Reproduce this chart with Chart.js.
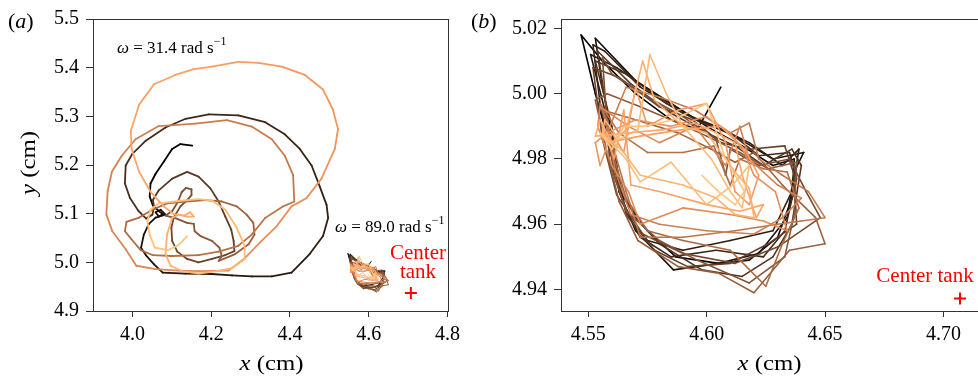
<!DOCTYPE html>
<html><head><meta charset="utf-8">
<script src="https://cdn.jsdelivr.net/npm/chart.js@4.4.0/dist/chart.umd.min.js"></script>
<style>
html,body{margin:0;padding:0;background:#fff;overflow:hidden;width:978px;height:376px;}
#wrap{position:relative;width:978px;height:376px;overflow:hidden;}
canvas{position:absolute;top:0;}
#ca{left:0;} #cb{left:466px;}
</style></head><body>
<div id="wrap"><canvas id="ca" width="466" height="376"></canvas><canvas id="cb" width="530" height="376"></canvas></div>
<script>
// ---------- DATA ----------
// Panel (a): trajectory at omega = 31.4 rad/s (time order: dark -> light)
const xA = [
  4.152,4.122,4.101,4.080,4.059,4.046,4.044,4.052,4.066,4.077,4.067,4.059,4.072,4.084,
  4.059,4.042,4.029,4.022,4.034,4.055,4.077,4.135,4.202,4.253,4.303,4.354,4.404,4.450,4.484,4.497,4.493,4.476,4.455,4.425,4.387,4.337,4.269,4.194,4.135,4.084,4.034,4.000,3.983,3.981,3.994,4.015,4.035,
  4.051,4.055,4.052,4.067,4.101,4.139,4.168,4.198,4.219,4.236,4.251,4.257,4.259,4.236,4.202,4.168,4.139,4.114,4.101,4.099,4.105,4.122,4.139,4.150,4.150,4.136,4.125,4.116,4.101,4.084,4.109,4.139,4.156,4.158,4.173,4.202,4.221,4.227,4.219,
  4.261,4.295,4.310,4.307,4.290,4.265,4.227,4.185,4.135,4.088,4.051,4.017,3.985,3.981,3.996,4.021,4.051,4.101,4.168,4.219,4.269,
  4.303,4.337,4.383,4.411,4.408,4.387,4.354,4.303,4.240,4.160,4.067,4.008,3.973,3.948,3.937,3.934,3.949,3.983,4.010,4.059,4.118,4.168,
  4.244,4.286,4.328,4.366,4.404,4.442,4.480,4.514,4.522,4.509,4.484,4.438,4.379,4.320,4.269,4.202,4.156,4.109,4.055,4.017,3.996,3.998,4.017,4.046,4.080,4.105,4.131,4.147,4.156,4.139,4.118,
  4.101,4.088,4.084,4.097,4.126,4.168,4.215,4.253,4.285,4.285,4.265,4.236,4.202,4.168,4.118,4.067,4.046,4.038,4.044,4.057,4.091,4.118,4.139
];
const yA = [
  5.240,5.243,5.233,5.207,5.182,5.162,5.135,5.117,5.106,5.099,5.094,5.103,5.108,5.098,
  5.092,5.079,5.057,5.030,5.015,4.996,4.979,4.977,4.976,4.973,4.971,4.971,4.979,5.017,5.054,5.091,5.118,5.155,5.199,5.233,5.263,5.288,5.302,5.304,5.295,5.277,5.250,5.223,5.199,5.162,5.132,5.106,5.090,
  5.098,5.115,5.128,5.148,5.172,5.186,5.176,5.152,5.125,5.094,5.067,5.044,5.023,5.015,5.007,5.000,5.007,5.022,5.044,5.071,5.092,5.115,5.128,5.138,5.150,5.153,5.144,5.125,5.105,5.096,5.091,5.081,5.079,5.064,5.054,5.044,5.030,5.013,5.003,
  5.017,5.037,5.057,5.081,5.098,5.115,5.125,5.128,5.125,5.121,5.108,5.092,5.083,5.064,5.049,5.025,5.015,5.013,5.015,5.022,5.034,
  5.057,5.091,5.115,5.125,5.179,5.219,5.253,5.279,5.292,5.285,5.280,5.253,5.219,5.186,5.145,5.098,5.064,5.027,4.993,4.986,4.983,4.982,
  4.983,5.009,5.044,5.074,5.115,5.132,5.172,5.233,5.274,5.314,5.355,5.385,5.402,5.410,5.412,5.402,5.397,5.385,5.366,5.324,5.270,5.233,5.186,5.145,5.115,5.099,5.096,5.103,5.094,5.094,5.098,
  5.091,5.057,5.017,4.993,4.982,4.977,4.982,4.988,5.007,5.034,5.071,5.108,5.127,5.130,5.126,5.121,5.108,5.084,5.057,5.030,5.025,5.036,5.054
];
// Panel (b): trajectory at omega = 89.0 rad/s (also shown small in panel a)
const xB = [
  4.606,4.596,4.585,4.570,4.556,4.547,4.553,4.560,4.565,4.575,4.587,4.605,4.618,4.630,4.636,4.637,4.628,4.615,4.600,4.585,4.570,
  4.553,4.556,4.561,4.563,4.570,4.586,4.605,4.622,4.634,4.637,4.641,4.628,4.612,4.596,4.578,4.562,
  4.551,4.557,4.562,4.566,4.575,4.590,4.610,4.628,4.636,4.639,4.632,4.618,4.604,4.590,4.572,4.557,
  4.552,4.555,4.560,4.565,4.572,4.585,4.604,4.624,4.633,4.638,4.635,4.622,4.610,4.598,4.583,4.566,
  4.553,4.560,4.563,4.570,4.580,4.598,4.615,4.628,4.636,4.640,4.636,4.624,4.612,4.600,4.585,4.568,
  4.554,4.558,4.559,4.567,4.578,4.592,4.610,4.626,4.638,4.637,4.633,4.618,4.606,4.594,4.580,4.563,
  4.552,4.556,4.562,4.573,4.590,4.612,4.630,4.648,4.642,4.635,4.622,4.610,4.608,4.604,4.590,4.575,4.560,
  4.556,4.558,4.561,4.566,4.580,4.596,4.618,4.633,4.637,4.638,4.626,4.614,4.600,4.588,4.572,4.558,
  4.553,4.557,4.563,4.571,4.588,4.605,4.620,4.635,4.650,4.646,4.632,4.620,4.612,4.602,4.588,4.570,4.556,
  4.558,4.561,4.566,4.575,4.590,4.610,4.625,4.632,4.639,4.634,4.624,4.614,4.610,4.603,4.590,4.575,4.563,
  4.555,4.560,4.566,4.572,4.590,4.612,4.630,4.640,4.650,4.643,4.632,4.622,4.618,4.610,4.595,4.580,4.566,
  4.558,4.562,4.568,4.580,4.600,4.620,4.632,4.640,4.630,4.618,4.614,4.608,4.595,4.580,4.567,4.555,
  4.554,4.560,4.567,4.572,4.590,4.610,4.624,4.634,4.629,4.620,4.616,4.610,4.600,4.585,4.570,4.558,
  4.553,4.555,4.560,4.565,4.570,4.575,4.588,4.600,4.608,4.612,4.618,4.622,4.616,4.606,4.590,4.572,4.558,
  4.556,4.561,4.565,4.568,4.580,4.600,4.614,4.624,4.621,4.615,4.612,4.604,4.595,4.582,4.567,4.553,
  4.555,4.560,4.566,4.573,4.578,4.590,4.600,4.612,4.618,4.620,4.612,4.604,4.590,4.572,4.565,4.556,
  4.557,4.563,4.571,4.576,4.583,4.590,4.602,4.610,4.615,4.618,4.611,4.600,4.585,4.572,4.566,4.558,
  4.555,4.560,4.565,4.574,4.586,4.600,4.608,4.616,4.612,4.605,4.598
];
const yB = [
  5.002,4.989,4.992,5.000,5.010,5.018,5.000,4.982,4.968,4.958,4.950,4.948,4.949,4.956,4.968,4.980,4.978,4.984,4.990,4.997,5.004,
  5.017,5.002,4.984,4.970,4.958,4.946,4.948,4.951,4.962,4.976,4.982,4.980,4.987,4.992,5.000,5.008,
  5.012,4.995,4.978,4.963,4.955,4.952,4.955,4.958,4.970,4.983,4.978,4.985,4.990,4.994,5.002,5.013,
  5.015,4.997,4.980,4.966,4.956,4.950,4.952,4.950,4.958,4.974,4.982,4.981,4.988,4.991,4.997,5.006,
  5.010,4.990,4.972,4.962,4.954,4.946,4.944,4.950,4.960,4.978,4.983,4.978,4.984,4.988,4.994,5.003,
  5.013,4.994,4.979,4.962,4.952,4.947,4.948,4.954,4.960,4.975,4.984,4.983,4.985,4.992,4.996,5.005,
  5.008,4.986,4.969,4.957,4.951,4.948,4.953,4.962,4.970,4.980,4.978,4.983,4.975,4.986,4.993,4.999,5.006,
  5.011,4.990,4.975,4.964,4.955,4.949,4.942,4.950,4.963,4.979,4.977,4.982,4.987,4.991,4.996,5.000,
  4.998,4.985,4.967,4.955,4.947,4.945,4.939,4.952,4.954,4.962,4.972,4.982,4.979,4.983,4.988,4.992,4.995,
  4.992,4.980,4.968,4.958,4.955,4.952,4.941,4.954,4.965,4.976,4.977,4.980,4.972,4.984,4.982,4.982,4.988,
  4.997,4.985,4.970,4.956,4.956,4.958,4.960,4.961,4.962,4.970,4.975,4.980,4.991,4.988,4.995,4.999,5.002,
  4.988,4.975,4.963,4.960,4.958,4.957,4.962,4.968,4.972,4.980,4.990,4.978,4.990,4.985,4.990,4.996,
  4.990,4.978,4.970,4.960,4.965,4.963,4.961,4.958,4.970,4.975,4.982,4.988,4.993,4.990,4.992,4.988,
  4.985,4.978,4.988,4.982,5.002,4.990,4.995,4.997,4.985,4.970,4.966,4.975,4.983,4.990,4.989,4.987,4.985,
  4.990,4.980,4.995,4.972,4.970,4.966,4.964,4.966,4.962,4.975,4.985,4.988,4.991,4.989,4.988,4.987,
  4.992,4.985,4.989,5.010,4.998,4.990,4.988,4.976,4.971,4.962,4.963,4.968,4.972,4.975,4.982,4.988,
  4.992,4.986,4.989,5.012,5.000,4.990,4.980,4.970,4.965,4.978,4.972,4.966,4.979,4.973,4.980,4.986,
  4.988,4.983,4.990,4.990,4.992,4.997,4.980,4.970,4.966,4.970,4.975
];
// Tank centre
const centerX = [4.707];
const centerY = [4.9372];
// Axis ranges and ticks
const xRangeA = [3.9, 4.8],  yRangeA = [4.9, 5.5];
const xRangeB = [4.5385, 4.7146], yRangeB = [4.9334, 5.0229];
const xTicksA = [4.0, 4.2, 4.4, 4.6, 4.8];
const yTicksA = [4.9, 5.0, 5.1, 5.2, 5.3, 5.4, 5.5];
const xTicksB = [4.55, 4.60, 4.65, 4.70];
const yTicksB = [4.94, 4.96, 4.98, 5.00, 5.02];

// ---------- STYLE / RENDER ----------
const SERIF = '"Liberation Serif","Times New Roman",Times,serif';
function copper(t){
  const r = Math.min(1, 1.25*t)*255, g = 0.7812*t*255, b = 0.4975*t*255;
  return 'rgb(' + Math.round(r) + ',' + Math.round(g) + ',' + Math.round(b) + ')';
}
function traj(xs, ys, width){
  const n = Math.min(xs.length, ys.length);
  const data = [];
  for (let i = 0; i < n; i++) data.push({x: xs[i], y: ys[i]});
  return {
    type: 'line', data, showLine: true, pointRadius: 0, pointHoverRadius: 0,
    borderWidth: width, borderJoinStyle: 'round', borderCapStyle: 'round', tension: 0,
    borderColor: copper(0.5),
    segment: { borderColor: c => copper(c.p0DataIndex/(n-1)) }
  };
}
function centerSet(){
  return { type: 'scatter', data: [{x: centerX[0], y: centerY[0]}], pointStyle: 'cross',
    pointRadius: 6, borderColor: '#ff0000', backgroundColor: '#ff0000', borderWidth: 2, showLine: false };
}
function rich(ctx, parts, x, y, align, sx, rot){
  ctx.save();
  let w = 0;
  parts.forEach(p => { ctx.font = p[1]; w += ctx.measureText(p[0]).width; });
  ctx.translate(x, y);
  if (rot) ctx.rotate(rot);
  ctx.scale(sx || 1, 1);
  let cx = align === 'center' ? -w/2 : 0;
  ctx.textBaseline = 'alphabetic';
  ctx.textAlign = 'left';
  parts.forEach(p => { ctx.font = p[1]; ctx.fillText(p[0], cx, p[2] || 0); cx += ctx.measureText(p[0]).width; });
  ctx.restore();
}
const frame = {
  id: 'frame',
  afterDatasetsDraw(chart){
    const {ctx, chartArea: a} = chart;
    ctx.save();
    ctx.strokeStyle = '#333'; ctx.lineWidth = 1;
    ctx.strokeRect(Math.round(a.left) + 0.5, Math.round(a.top) + 0.5, Math.round(a.right - a.left), Math.round(a.bottom - a.top));
    ctx.restore();
  }
};
function textPlugin(items){
  return { id: 'texts', afterDraw(chart){ const ctx = chart.ctx; items.forEach(it => { ctx.fillStyle = it.color || '#000'; rich(ctx, it.parts, it.x, it.y, it.align, it.sx, it.rot); }); } };
}
function scales(xr, yr, xt, yt, dec, yw){
  const tickFont = {family: SERIF, size: 20};
  return {
    x: { type: 'linear', min: xr[0], max: xr[1],
      afterBuildTicks: s => { s.ticks = xt.map(v => ({value: v})); },
      afterFit: s => { s.height = 65; },
      ticks: { font: tickFont, color: '#000', padding: 6, maxRotation: 0, autoSkip: false, callback: v => v.toFixed(dec) },
      grid: { display: true, drawOnChartArea: false, drawTicks: true, tickLength: 6, tickColor: '#333', tickWidth: 1 },
      border: { display: false } },
    y: { type: 'linear', min: yr[0], max: yr[1],
      afterBuildTicks: s => { s.ticks = yt.map(v => ({value: v})); },
      afterFit: s => { s.width = yw; },
      ticks: { font: tickFont, color: '#000', padding: 7, autoSkip: false, callback: v => v.toFixed(dec) },
      grid: { display: true, drawOnChartArea: false, drawTicks: true, tickLength: 7, tickColor: '#333', tickWidth: 1 },
      border: { display: false } }
  };
}
const common = { responsive: false, animation: false, devicePixelRatio: 1,
  plugins: { legend: { display: false }, tooltip: { enabled: false } }, events: [] };

const F = (s, it) => (it ? 'italic ' : '') + s + 'px ' + SERIF;
const omegaParts = v => [['\u03c9', F(17, true)], [' = ' + v + ' rad s', F(17)], ['\u22121', F(12), -8]];

new Chart(document.getElementById('ca'), {
  type: 'line',
  data: { datasets: [centerSet(), traj(xB, yB, 1.0), traj(xA, yA, 1.8)] },
  options: Object.assign({}, common, {
    layout: { padding: { top: 15, right: 16, left: 0, bottom: 0 } },
    scales: scales(xRangeA, yRangeA, xTicksA, yTicksA, 1, 93)
  }),
  plugins: [frame, textPlugin([
    { parts: [['(', F(22)], ['a', F(22, true)], [')', F(22)]], x: 8, y: 28 },
    { parts: omegaParts('31.4'), x: 117, y: 53 },
    { parts: omegaParts('89.0'), x: 335, y: 232 },
    { parts: [['Center', F(21)]], x: 418, y: 259, align: 'center', color: '#ff0000' },
    { parts: [['tank', F(21)]], x: 418, y: 277.5, align: 'center', color: '#ff0000' },
    { parts: [['x', F(21, true)], [' (cm)', F(21)]], x: 271.5, y: 370, align: 'center', sx: 1.18 },
    { parts: [['y', F(21, true)], [' (cm)', F(21)]], x: 35, y: 163, align: 'center', sx: 1.18, rot: -Math.PI/2 }
  ])]
});

new Chart(document.getElementById('cb'), {
  type: 'line',
  data: { datasets: [centerSet(), traj(xB, yB, 1.6)] },
  options: Object.assign({}, common, {
    layout: { padding: { top: 15, right: 18, left: 0, bottom: 0 } },
    scales: scales(xRangeB, yRangeB, xTicksB, yTicksB, 2, 95)
  }),
  plugins: [frame, textPlugin([
    { parts: [['(', F(22)], ['b', F(22, true)], [')', F(22)]], x: 5, y: 28 },
    { parts: [['Center tank', F(21)]], x: 459, y: 282, align: 'center', color: '#ff0000' },
    { parts: [['x', F(21, true)], [' (cm)', F(21)]], x: 303.5, y: 370, align: 'center', sx: 1.18 }
  ])]
});
</script>
</body></html>
